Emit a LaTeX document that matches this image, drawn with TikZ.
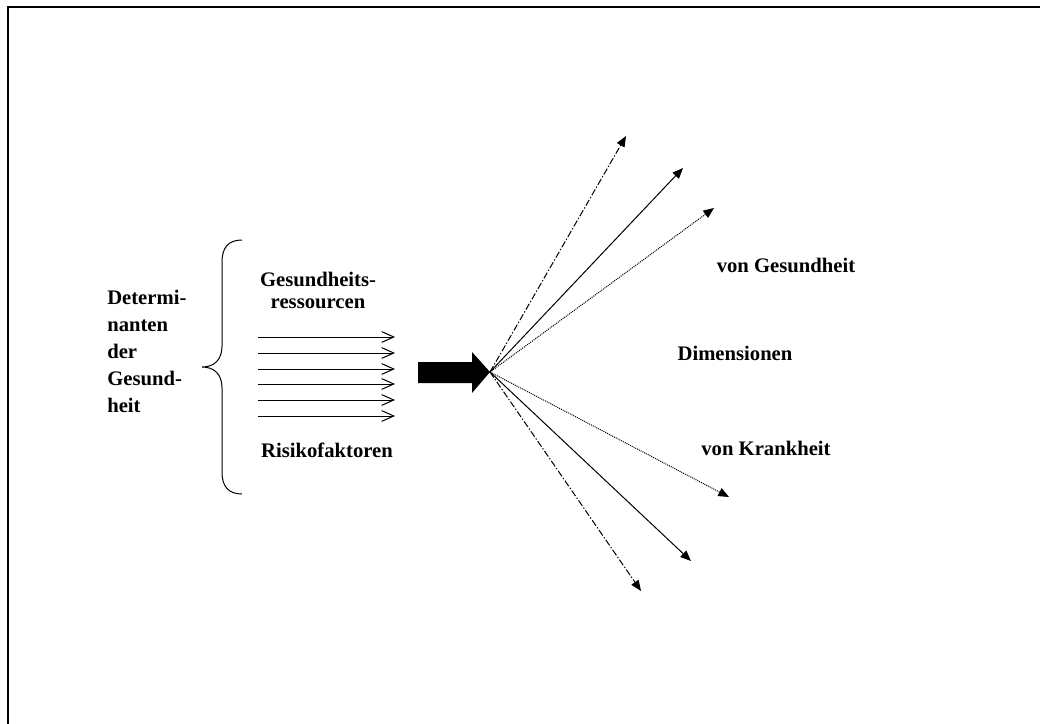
\documentclass[tikz,border=0pt]{standalone}
\usepackage{fontspec}
\setmainfont{Liberation Serif}
\usetikzlibrary{arrows.meta}
\begin{document}
\begin{tikzpicture}[x=0.75pt,y=-0.75pt,
  lbl/.style={font=\fontsize{15.5}{19}\selectfont\bfseries, inner sep=0pt, anchor=base west},
  clbl/.style={lbl, anchor=base},
  flow/.style={line width=0.75pt, -{Straight Barb[length=9pt,width=8pt]}},
  ray/.style={line width=0.75pt, -{Triangle[length=8pt,width=6.5pt]}},
  raydashdot/.style={ray, dash pattern=on 5pt off 1.5pt on 1pt off 1.5pt},
  raydotted/.style={ray, dash pattern=on 0.75pt off 0.75pt},
  bigarrow/.style={fill=black, draw=none}]
\useasboundingbox (0,0) rectangle (1040,724);
% frame edges
\draw[line width=1.5pt] (8,724) -- (8,7) -- (1040,7);

% curly brace grouping the determinants
\draw[line width=0.75pt] (242,240) .. controls (228,240) and (222,248) .. (222,262)
  -- (222,346) .. controls (222,360) and (214,367) .. (202,367)
  .. controls (214,367) and (222,374) .. (222,388)
  -- (222,472) .. controls (222,486) and (228,494) .. (242,494);

% labels
\node[lbl] (det1) at (107,304) {Determi-};
\node[lbl] (det2) at (107,331) {nanten};
\node[lbl] (det3) at (107,358) {der};
\node[lbl] (det4) at (107,385) {Gesund-};
\node[lbl] (det5) at (107,412) {heit};
\node[clbl] (res1) at (318,286) {Gesundheits-};
\node[clbl] (res2) at (318,308) {ressourcen};
\node[clbl] (risk) at (327,457) {Risikofaktoren};
\node[clbl] (gesund) at (786,272) {von Gesundheit};
\node[clbl] (dim) at (735,360) {Dimensionen};
\node[clbl] (krank) at (766,455) {von Krankheit};

% parallel influence arrows
\foreach \i/\yy in {1/337,2/353,3/369,4/384,5/400,6/416}{
  \coordinate (fs\i) at (258,\yy);
  \coordinate (fe\i) at (395,\yy);
  \draw[flow] (fs\i) -- (fe\i);
}

% thick block arrow
\coordinate (hub) at (490,372);
\fill[bigarrow] (418,362) -- (472,362) -- (472,352) -- (hub) -- (472,393) -- (472,383) -- (418,383) -- cycle;

% fan of dimensions
\coordinate (t1) at (626,136);
\coordinate (t2) at (683,168);
\coordinate (t3) at (714,208);
\coordinate (b1) at (729,497);
\coordinate (b2) at (691,561);
\coordinate (b3) at (641,591);
\draw[raydashdot] (hub) -- (t1);
\draw[ray] (hub) -- (t2);
\draw[raydotted] (hub) -- (t3);
\draw[raydotted] (hub) -- (b1);
\draw[ray] (hub) -- (b2);
\draw[raydashdot] (hub) -- (b3);
\end{tikzpicture}
\end{document}
